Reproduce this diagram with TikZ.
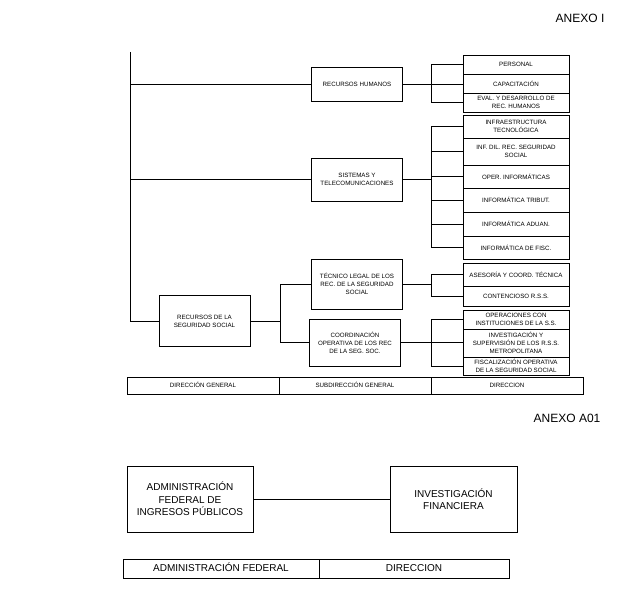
\documentclass[tikz,border=0pt]{standalone}
\usepackage{fontspec}
\setmainfont{Liberation Sans}
\usepackage{tikz}
\usetikzlibrary{positioning,calc}

\begin{document}
\begin{tikzpicture}[x=1pt,y=-1pt,line width=0.6pt,
    unit/.style={draw,rectangle,inner sep=0pt,align=center,minimum width=91pt,font=\fontsize{6.2}{8}\selectfont},
    subunit/.style={draw,rectangle,inner sep=0pt,align=center,minimum width=106pt,font=\fontsize{6.2}{8}\selectfont},
    levelcell/.style={draw,rectangle,inner sep=0pt,minimum width=152pt,minimum height=17pt,text height=4.6pt,text depth=0.4pt,font=\fontsize{6.2}{8}\selectfont},
    bigunit/.style={draw,rectangle,inner sep=0pt,align=center,minimum height=66pt,font=\fontsize{10}{12.5}\selectfont},
    bigcell/.style={draw,rectangle,inner sep=0pt,minimum height=19pt,text height=7.2pt,text depth=0.6pt,font=\fontsize{10}{12}\selectfont}]
        \useasboundingbox (0,0) rectangle (626,615);
        % titles
        \node[anchor=east,font=\fontsize{12}{14}\selectfont] (anexoI) at (608,18) {ANEXO I};
        \node[anchor=east,font=\fontsize{12}{14}\selectfont] (anexoA) at (604,418) {ANEXO A01};
        % subdirecciones
        \node[unit,minimum height=34pt] (rrhh) at (357,84) {RECURSOS HUMANOS};
        \node[unit,minimum height=43pt] (sist) at (357,179.5) {SISTEMAS Y\\TELECOMUNICACIONES};
        \node[unit,minimum height=50pt] (tecleg) at (357,284) {TÉCNICO LEGAL DE LOS\\REC. DE LA SEGURIDAD\\SOCIAL};
        \node[unit,minimum height=47pt] (coord) at (355,342.5) {COORDINACIÓN\\OPERATIVA DE LOS REC\\DE LA SEG. SOC.};
        \node[unit,minimum height=51pt] (rss) at (204.5,321) {RECURSOS DE LA\\SEGURIDAD SOCIAL};
        % direcciones
        \node[subunit,minimum height=19pt] (pers) at (516,64.5) {PERSONAL};
        \node[subunit,minimum height=19pt] (capac) at (516,83.5) {CAPACITACIÓN};
        \node[subunit,minimum height=19pt] (evald) at (516,102.5) {EVAL. Y DESARROLLO DE\\REC. HUMANOS};
        \node[subunit,minimum height=23pt] (infra) at (516,126.5) {INFRAESTRUCTURA\\TECNOLÓGICA};
        \node[subunit,minimum height=27pt] (infdil) at (516,151.5) {INF. DIL. REC. SEGURIDAD\\SOCIAL};
        \node[subunit,minimum height=23pt] (oper) at (516,176.5) {OPER. INFORMÁTICAS};
        \node[subunit,minimum height=24pt] (tribut) at (516,200) {INFORMÁTICA TRIBUT.};
        \node[subunit,minimum height=24pt] (aduan) at (516,224) {INFORMÁTICA ADUAN.};
        \node[subunit,minimum height=23pt] (fisc) at (516,247.5) {INFORMÁTICA DE FISC.};
        \node[subunit,minimum height=23pt] (asesor) at (516,274.5) {ASESORÍA Y COORD. TÉCNICA};
        \node[subunit,minimum height=20pt] (contenc) at (516,296) {CONTENCIOSO R.S.S.};
        \node[subunit,minimum height=19pt] (opinst) at (516,319.5) {OPERACIONES CON\\INSTITUCIONES DE LA S.S.};
        \node[subunit,minimum height=28pt] (invsup) at (516,343) {INVESTIGACIÓN Y\\SUPERVISIÓN DE LOS R.S.S.\\METROPOLITANA};
        \node[subunit,minimum height=18pt] (fiscop) at (516,366) {FISCALIZACIÓN OPERATIVA\\DE LA SEGURIDAD SOCIAL};
        % niveles
        \node[levelcell] (dirgen) at (203,385.5) {DIRECCIÓN GENERAL};
        \node[levelcell] (subgen) at (355,385.5) {SUBDIRECCIÓN GENERAL};
        \node[levelcell] (direc) at (507,385.5) {DIRECCION};
        % conectores
        \coordinate (top) at (130,52);
        \draw (top) |- (rss.west);
        \draw (top |- rrhh.west) -- (rrhh.west);
        \draw (top |- sist.west) -- (sist.west);
        \draw (rrhh.east) -- (rrhh.east -| capac.west);
        \draw (pers.west) -- ++(-31,0) |- (evald.west);
        \draw (sist.east) -- ($(sist.east -| infra.west)+(-31,0)$);
        \draw (infra.west) -- ++(-31,0) |- (fisc.west);
        \foreach \n in {infdil,oper,tribut,aduan}
          \draw (\n.west) -- ++(-31,0);
        \draw (tecleg.east) -- ($(tecleg.east -| asesor.west)+(-31,0)$);
        \draw (asesor.west) -- ++(-31,0) |- (contenc.west);
        \draw (coord.east) -- (coord.east -| invsup.west);
        \draw (opinst.west) -- ++(-31,0) |- (fiscop.west);
        \draw (rss.east) -- ++(30,0) coordinate (rssj);
        \draw (tecleg.west) -| (rssj) |- (coord.west);
        % anexo A01
        \node[bigunit,minimum width=126pt] (afip) at (190,499) {ADMINISTRACIÓN\\FEDERAL DE\\INGRESOS PÚBLICOS};
        \node[bigunit,minimum width=127pt] (invfin) at (453.5,499) {INVESTIGACIÓN\\FINANCIERA};
        \draw (afip.east) -- (invfin.west);
        \node[bigcell,minimum width=196pt] (admfed) at (221,568.5) {ADMINISTRACIÓN FEDERAL};
        \node[bigcell,minimum width=190pt] (direcA) at (414,568.5) {DIRECCION};
      \end{tikzpicture}
\end{document}
